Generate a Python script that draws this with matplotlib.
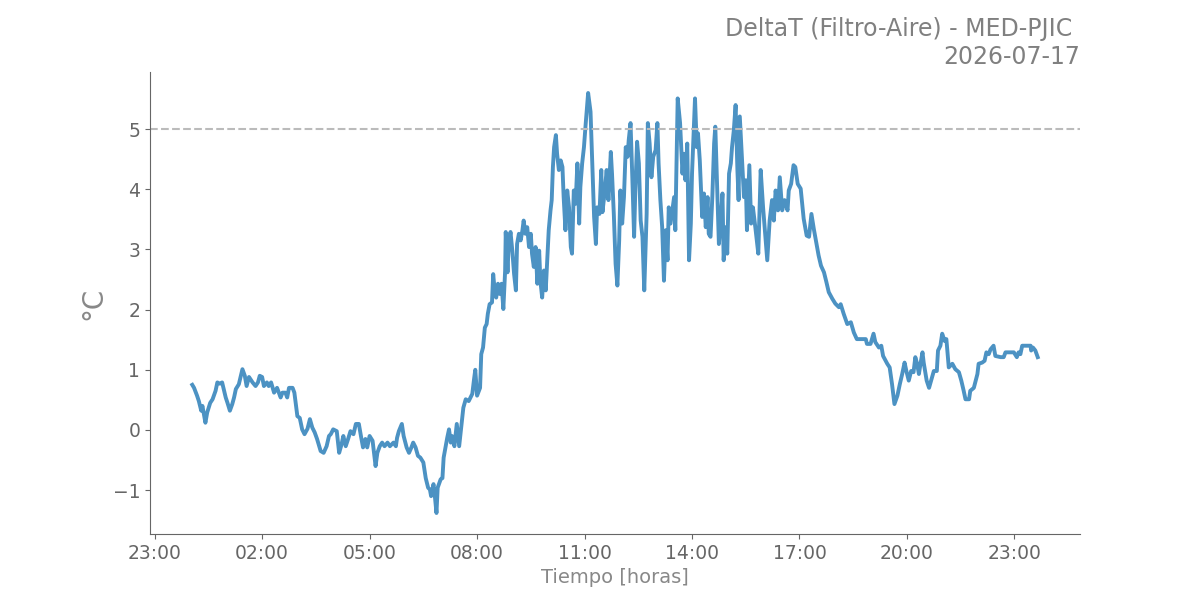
import matplotlib
matplotlib.use("Agg")
import matplotlib.pyplot as plt
import matplotlib.dates as mdates
import pandas as pd

# minutes after midnight (2026-07-17) and DeltaT values [°C]
min_night = [3, 6, 11, 14, 18, 20, 25, 28, 33, 37,
             42, 45, 49, 53, 59, 62, 66, 70, 73, 76,
             81, 87, 91, 94, 98, 104, 109, 113, 116, 120,
             123, 128, 131, 135, 140, 145, 151, 154, 159, 162,
             165, 171, 174, 179, 183, 187, 191, 196, 200, 204,
             208, 212, 218, 223, 228, 232]
val_night = [0.75, 0.7, 0.57, 0.48, 0.32, 0.4, 0.12, 0.29, 0.45, 0.51,
             0.65, 0.79, 0.77, 0.79, 0.54, 0.45, 0.32, 0.43, 0.54, 0.68,
             0.76, 1.01, 0.9, 0.73, 0.88, 0.79, 0.73, 0.79, 0.9, 0.88,
             0.73, 0.79, 0.73, 0.79, 0.62, 0.7, 0.54, 0.62, 0.62, 0.54,
             0.7, 0.7, 0.62, 0.23, 0.2, 0.01, -0.07, 0.02, 0.18, 0.04,
             -0.04, -0.15, -0.35, -0.38, -0.27, -0.1]

min_dawn = [235, 239, 245, 249, 253, 256, 260, 264, 268, 273,
            277, 282, 286, 289, 293, 296, 300, 305, 310, 313,
            317, 321, 325, 330, 334, 340, 344, 346, 349, 354,
            357, 362, 366, 370, 373, 377, 381, 385, 390, 394,
            398, 401, 403, 407, 409, 412, 414, 419, 422, 424,
            427, 430, 433, 436, 438, 442, 446, 450, 454, 457,
            461, 466, 472]
val_dawn = [-0.07, 0.01, -0.02, -0.38, -0.24, -0.1, -0.27, -0.15, -0.02, -0.07,
            0.1, 0.1, -0.13, -0.29, -0.15, -0.29, -0.1, -0.18, -0.6, -0.38,
            -0.27, -0.21, -0.27, -0.21, -0.27, -0.21, -0.27, -0.13, -0.02, 0.1,
            -0.1, -0.29, -0.38, -0.29, -0.21, -0.29, -0.43, -0.46, -0.54, -0.8,
            -0.96, -0.99, -1.1, -0.9, -1.07, -1.38, -0.96, -0.82, -0.8, -0.46,
            -0.29, -0.13, 0.01, -0.21, -0.1, -0.27, 0.1, -0.27, 0.1, 0.37,
            0.51, 0.48, 0.6]

min_morning = [475, 477, 480, 485, 487, 490, 493, 496, 498, 501,
               505, 507, 509, 512, 515, 518, 521, 524, 527, 528,
               531, 533, 536, 539, 542, 545, 547, 550, 553, 556,
               558, 561, 564, 567, 570, 572, 575, 578, 581, 584,
               586, 589, 592, 595, 598, 600, 603, 605, 607, 609,
               612, 614, 617, 620, 623, 625, 628, 631, 634, 637,
               639, 642, 645, 648, 651, 653, 656, 659, 662, 666]
val_morning = [0.85, 1.0, 0.57, 0.7, 1.26, 1.37, 1.7, 1.76, 1.93, 2.09,
               2.12, 2.59, 2.37, 2.2, 2.43, 2.26, 2.43, 2.01, 2.65, 3.29,
               2.62, 3.09, 3.29, 2.98, 2.59, 2.32, 3.09, 3.26, 3.15, 3.32,
               3.48, 3.26, 3.37, 3.04, 3.26, 2.93, 2.71, 3.04, 2.43, 2.98,
               2.48, 2.2, 2.65, 2.32, 2.93, 3.32, 3.65, 3.82, 4.37, 4.7,
               4.9, 4.59, 4.32, 4.48, 4.37, 3.87, 3.32, 3.98, 3.7, 3.04,
               2.93, 3.98, 3.76, 4.43, 3.43, 4.04, 4.43, 4.7, 5.1, 5.6]

min_midday = [670, 673, 676, 679, 681, 685, 688, 690, 694, 697,
              700, 704, 706, 709, 712, 715, 718, 720, 723, 726,
              729, 732, 734, 737, 740, 743, 745, 748, 751, 754,
              757, 760, 764, 766, 769, 772, 775, 779, 782, 784,
              787, 790, 793, 796, 799, 801, 804, 807, 810, 812,
              816, 820, 824, 826, 829, 832, 835, 838, 840, 845,
              848, 850, 853, 857, 860, 863, 866, 868, 871, 874,
              877, 879, 882, 885, 888, 891, 893, 896, 899, 902,
              905, 907, 910, 913, 916, 918, 920, 924, 927, 930,
              932, 936, 939, 942, 946, 951, 955, 959, 962, 966,
              970, 974, 977, 980, 984, 987, 991, 995, 1000, 1002,
              1006, 1010, 1013, 1017, 1022]
val_midday = [5.29, 4.43, 3.54, 3.09, 3.7, 3.59, 4.32, 3.62, 3.98, 4.32,
              3.82, 4.62, 4.26, 3.59, 2.76, 2.4, 3.15, 3.98, 3.43, 3.87,
              4.7, 4.54, 4.82, 5.1, 4.2, 3.21, 3.98, 4.79, 4.43, 3.48,
              3.21, 2.32, 3.59, 5.1, 4.76, 4.2, 4.54, 4.65, 5.1, 4.43,
              3.82, 3.37, 2.48, 3.32, 2.82, 3.7, 3.43, 3.65, 3.87, 3.32,
              5.51, 5.1, 4.26, 4.59, 4.15, 4.76, 2.82, 3.43, 4.26, 5.51,
              4.7, 4.93, 4.48, 3.54, 3.93, 3.37, 3.87, 3.26, 3.21, 3.87,
              4.76, 5.04, 4.09, 3.09, 3.48, 3.93, 2.82, 3.37, 2.93, 4.26,
              4.43, 4.7, 4.98, 5.4, 4.32, 3.82, 5.21, 4.43, 3.87, 4.15,
              3.32, 4.4, 3.43, 3.7, 3.37, 2.93, 4.32, 3.7, 3.32, 2.82,
              3.48, 3.82, 3.48, 3.98, 3.65, 4.2, 3.65, 3.82, 3.65, 3.98,
              4.09, 4.4, 4.37, 4.09, 4.01]

min_evening = [1027, 1032, 1036, 1040, 1044, 1049, 1052, 1056, 1061, 1065,
               1069, 1075, 1080, 1086, 1089, 1094, 1100, 1106, 1111, 1116,
               1131, 1133, 1139, 1144, 1147, 1153, 1157, 1160, 1167, 1171,
               1175, 1179, 1184, 1188, 1192, 1196, 1199, 1203, 1207, 1211,
               1214, 1217, 1220, 1223, 1226, 1228, 1233, 1237, 1241, 1245,
               1250, 1252, 1256, 1259, 1263, 1266, 1270, 1276, 1281, 1287,
               1291, 1295, 1298, 1304, 1306, 1312, 1318, 1320, 1326, 1330,
               1333, 1337, 1340, 1345, 1348, 1357, 1362, 1365, 1379, 1384,
               1387, 1390, 1393, 1407, 1408, 1411, 1415, 1419]
val_evening = [3.51, 3.23, 3.21, 3.59, 3.34, 3.07, 2.9, 2.73, 2.62, 2.46,
               2.29, 2.18, 2.1, 2.04, 2.09, 1.93, 1.76, 1.79, 1.62, 1.51,
               1.51, 1.43, 1.43, 1.6, 1.46, 1.37, 1.4, 1.23, 1.1, 1.04,
               0.76, 0.43, 0.57, 0.76, 0.93, 1.12, 0.98, 0.82, 0.98, 0.96,
               1.21, 1.1, 0.93, 1.12, 1.29, 1.12, 0.82, 0.7, 0.84, 0.98,
               0.98, 1.32, 1.4, 1.6, 1.48, 1.51, 1.04, 1.1, 1.01, 0.96,
               0.82, 0.65, 0.51, 0.51, 0.65, 0.7, 0.93, 1.1, 1.12, 1.15,
               1.29, 1.26, 1.34, 1.4, 1.23, 1.21, 1.21, 1.29, 1.29, 1.21,
               1.29, 1.26, 1.4, 1.4, 1.32, 1.37, 1.32, 1.21]

limit_value = 5
date_str = "2026-07-17"
title_text = "DeltaT (Filtro-Aire) - MED-PJIC \n" + date_str

minutes = min_night + min_dawn + min_morning + min_midday + min_evening
values = val_night + val_dawn + val_morning + val_midday + val_evening
assert len(minutes) == len(values)

times = pd.Timestamp(date_str) + pd.to_timedelta(minutes, unit="min")

fig, ax = plt.subplots(figsize=(12, 6), dpi=100)
ax.plot(times, values, color="C0", alpha=0.8, lw=2.8)
ax.axhline(limit_value, color="#bbbbbb", ls="--", lw=1.5)

ax.xaxis.set_major_locator(mdates.HourLocator(byhour=range(2, 24, 3)))
ax.xaxis.set_major_formatter(mdates.DateFormatter("%H:%M"))

for s in ("top", "right"):
    ax.spines[s].set_visible(False)
for s in ("left", "bottom"):
    ax.spines[s].set_color("#666666")
ax.tick_params(colors="#666666", labelsize=13.5, labelcolor="#666666")

ax.set_xlabel("Tiempo [horas]", fontsize=14, color="#888888")
ax.set_ylabel("°C", fontsize=20, color="#888888")
ax.set_title(title_text, loc="right", fontsize=17, color="#808080")

fig.savefig("out.png", dpi=100)
